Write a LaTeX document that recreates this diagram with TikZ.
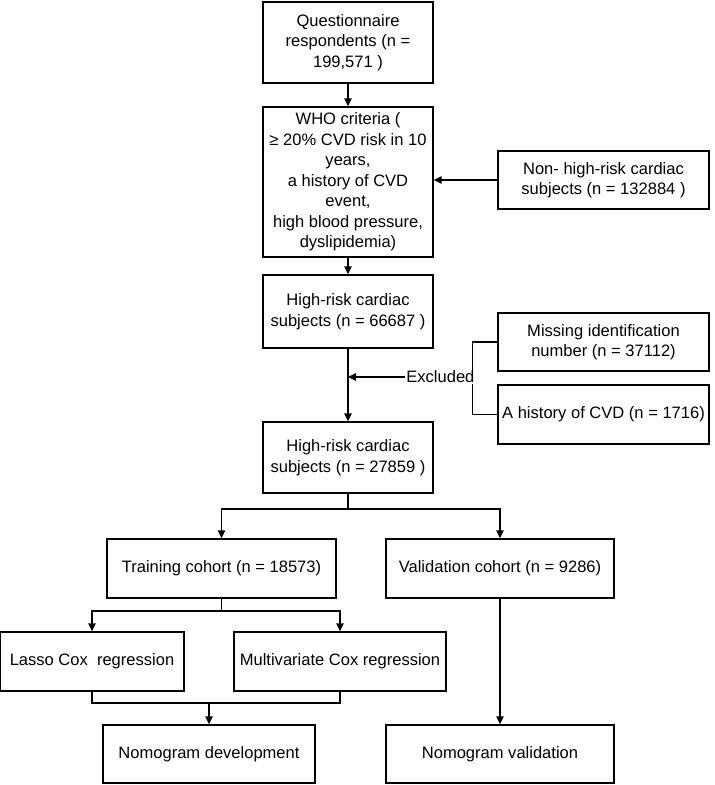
\documentclass[tikz,border=0pt]{standalone}
\usepackage{fontspec}
\setmainfont{Liberation Sans}
\usetikzlibrary{arrows.meta}

\begin{document}
\begin{tikzpicture}[x=0.75pt,y=-0.75pt,
        box/.style={draw=black, line width=1.1pt, align=center, inner sep=2pt,
                font=\fontsize{12.4}{15.4}\selectfont},
        conn/.style={draw=black, line width=1.1pt},
        arr/.style={conn, -{Triangle[length=6pt,width=5.5pt]}}]
        \useasboundingbox (0,0) rectangle (714,785);
        \node [box, minimum width=127.5pt, minimum height=60.75pt] (quest) at (348,42.5) {Questionnaire\\respondents (n =\\199,571 )};
        \node [box, minimum width=127.5pt, minimum height=112.5pt] (who) at (348,182) {WHO criteria (\\≥ 20\% CVD risk in 10\\years,\\a history of CVD\\event,\\high blood pressure,\\dyslipidemia)};
        \node [box, minimum width=158.25pt, minimum height=43.5pt] (nonrisk) at (603.5,180) {Non- high-risk cardiac\\subjects (n = 132884 )};
        \node [box, minimum width=127.5pt, minimum height=54.75pt] (risk1) at (348,311.5) {High-risk cardiac\\subjects (n = 66687 )};
        \node [box, minimum width=158.25pt, minimum height=43.5pt] (missing) at (603.5,342) {Missing identification\\number (n = 37112)};
        \node [box, minimum width=158.25pt, minimum height=44.25pt] (history) at (603.5,414.5) {A history of CVD (n = 1716)};
        \node [box, minimum width=127.5pt, minimum height=53.25pt] (risk2) at (348,457.5) {High-risk cardiac\\subjects (n = 27859 )};
        \node [box, minimum width=171.75pt, minimum height=44.25pt] (train) at (221.5,568.5) {Training cohort (n = 18573)};
        \node [box, minimum width=171pt, minimum height=44.25pt] (valid) at (500,568.5) {Validation cohort (n = 9286)};
        \node [box, minimum width=138pt, minimum height=44.25pt] (lasso) at (92,661.5) {Lasso Cox\ \ regression};
        \node [box, minimum width=159pt, minimum height=44.25pt] (multi) at (340,661.5) {Multivariate Cox regression};
        \node [box, minimum width=159pt, minimum height=43.5pt] (nomodev) at (209,754) {Nomogram development};
        \node [box, minimum width=171pt, minimum height=43.5pt] (nomoval) at (500,754) {Nomogram validation};
        \draw [arr] (quest.south) -- (who.north);
        \draw [arr] (nonrisk.west) -- (who.east |- nonrisk.west);
        \draw [arr] (who.south) -- (risk1.north);
        \draw [arr] (risk1.south) -- (risk2.north);
        \draw [conn] (missing.west) -- ++(-25,0) |- (history.west);
        \node [fill=white, inner sep=1pt, anchor=east, font=\fontsize{12.4}{15.4}\selectfont] (excl) at (476,377) {Excluded};
        \draw [arr] (excl.west) -- (risk1.south |- excl.west);
        \coordinate (split1) at (348,509);
        \draw [conn] (risk2.south) -- (split1);
        \draw [arr] (split1) -| (train.north);
        \draw [arr] (split1) -| (valid.north);
        \coordinate (split2) at (221.5,611);
        \draw [conn] (train.south) -- (split2);
        \draw [arr] (split2) -| (lasso.north);
        \draw [arr] (split2) -| (multi.north);
        \coordinate (merge) at (209,703);
        \draw [conn] (lasso.south) |- (merge) -| (multi.south);
        \draw [arr] (merge) -- (nomodev.north);
        \draw [arr] (valid.south) -- (nomoval.north);
\end{tikzpicture}
\end{document}
